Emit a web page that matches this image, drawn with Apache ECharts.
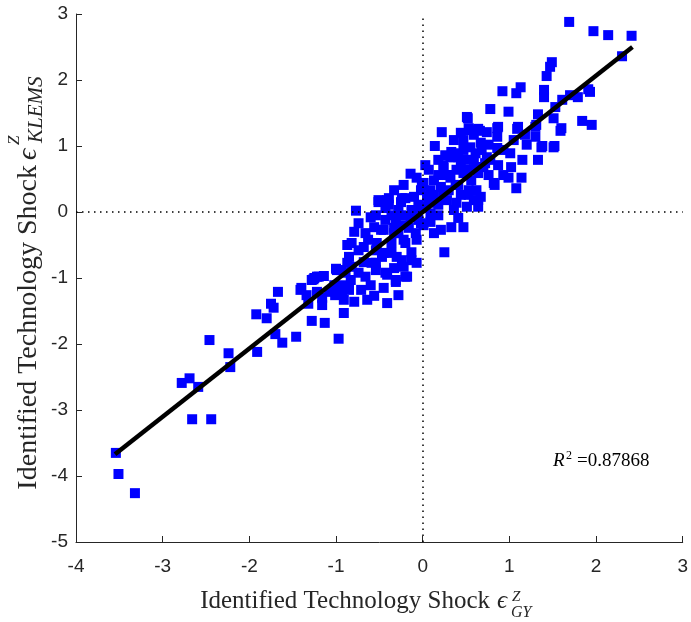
<!DOCTYPE html>
<html>
<head>
<meta charset="utf-8">
<script src="https://cdn.jsdelivr.net/npm/echarts@6/dist/echarts.min.js"></script>
<style>
    html, body { margin: 0; padding: 0; background: #fff; }
    #chart { width: 691px; height: 622px; }
</style>
</head>
<body>
<div id="chart"></div>
<script>
    // identified shocks (x: GY, y: KLEMS)
    const shockGY = [
        -3.54, -3.51, -3.32, -2.66, -2.44, -2.78, -2.69, -2.59, -2.46, -2.24,
        -2.22, -1.91, -1.92, -1.80, -1.75, -1.72, -1.67, -1.70, -1.62, -1.46,
        -1.28, -1.13, -0.97, -1.41, -1.34, -1.32, -1.26, -1.22, -1.14, -1.22,
        -1.16, -1.16, -1.00, -0.91, -1.01, -0.93, -0.91, -0.89, -0.87, -0.87,
        -0.77, -0.74, -0.82, -0.85, -0.66, -0.54, -0.51, -0.39, -0.20, -0.10,
        -0.48, -0.43, -0.31, -0.28, -0.20, -0.36, -0.47, -0.54, -0.66, -0.82,
        -0.94, -1.20, -1.28, -0.43, -0.31, -0.13, -0.07, -0.08, -0.02, -0.13,
        -0.28, -0.43, 0.03, 0.09, -0.24, -0.54, 0.25, -0.14, 0.03, 0.14,
        0.22, 0.44, 0.52, 0.54, 0.66, 0.78, 0.74, 0.86, 0.86, 0.92,
        0.99, 1.08, 1.13, 1.09, 1.18, 1.33, 1.30, 1.38, 1.52, 1.33,
        1.15, 0.99, 1.14, 1.08, 0.83, 1.40, 1.40, 1.43, 1.47, 1.49,
        1.53, 1.51, 1.59, 1.61, 1.70, 1.79, 1.91, 1.93, 1.84, 1.95,
        1.69, 1.97, 2.14, 2.41, 2.30, 1.30, 0.86, 1.01, -0.51, -0.25,
        0.33, 0.47, 0.41, 0.64, 0.67, 0.62, 0.82, 0.56, 0.47, 0.24,
        0.32, 0.39, 0.55, 0.67, 0.74, 0.62, 0.13, 0.09, 0.01, 0.21,
        0.28, 0.16, 0.09, 0.21, 0.13, -0.07, -0.18, -0.28, -0.41, -0.56,
        -0.79, -0.31, -0.41, -0.83, -0.68, -0.45, -0.30, -0.22, -0.33, -0.45,
        -0.56, -0.60, -0.14, -0.02, 0.05, 0.36, 0.51, 0.59, 0.64, 0.70,
        0.32, 0.39, 0.51, 0.61, 0.68, 0.47, 0.36, 1.60, 0.87, 1.10,
        1.31, 0.64, 0.53, 0.51, 1.37, 1.51, 1.02, 0.72, 0.64, 0.41,
        0.33, 0.26, 0.28, -0.01, 0.24, -0.41, -0.24, -0.99, -1.25, -1.40,
        -0.22, -0.13, -0.59, -0.54, -0.74, -0.97, -0.85, -0.20, -0.33, -0.22,
        -0.07, 0.07, 0.18, -0.05, -0.36, -0.22, 0.01, 0.18, 0.30, 0.41,
        0.44, 0.53, -0.39, -0.33, -0.16, -0.63, -0.74, -0.36, -0.53, -0.10,
        -0.25, -0.68, -0.60, -0.45, -0.33, -0.79, 0.13, 0.18, 0.30, 0.38,
        0.44, 0.53, 0.59, 0.18, 0.07, 0.24, 0.36, 0.47, 0.59, 0.76,
        0.78, 0.87, 0.93, 1.05, 1.20, 0.93, 0.76, 0.53, 0.39, 0.01,
        -0.05, 0.09, -1.02, -1.08, -0.91, -0.71, -0.64
    ];
    const shockKLEMS = [
        -3.65, -3.97, -4.26, -3.14, -3.14, -2.59, -2.52, -2.65, -1.94, -2.14,
        -2.35, -2.12, -1.55, -1.61, -1.39, -1.45, -1.21, -1.85, -1.98, -1.89,
        -1.65, -1.68, -1.92, -1.18, -1.26, -1.39, -1.02, -0.98, -0.97, -1.21,
        -1.30, -1.41, -0.86, -1.53, -1.26, -1.23, -1.11, -0.92, -0.50, -0.77,
        0.02, -0.17, -0.47, -0.68, -0.32, -0.05, 0.18, 0.21, 0.21, 0.23,
        -0.27, -0.12, -0.12, -0.32, -0.47, -0.62, -0.68, -0.77, -0.98, -0.83,
        -0.88, -0.98, -1.03, -0.92, -1.03, -0.61, -0.77, -0.32, -0.17, 0.03,
        0.03, 0.06, 0.08, 0.18, -0.73, -0.88, -0.61, 0.58, 0.71, 1.00,
        1.21, 1.20, 1.42, 1.24, 1.23, 1.56, 1.21, 1.27, 1.14, 1.83,
        1.52, 1.80, 1.89, 1.26, 1.17, 1.48, 1.14, 1.00, 1.00, 0.79,
        0.79, 0.52, 0.52, 0.36, 0.41, 1.85, 1.74, 2.06, 2.20, 2.27,
        1.59, 1.42, 1.23, 1.70, 1.77, 1.74, 1.86, 1.82, 1.38, 1.32,
        2.88, 2.74, 2.68, 2.67, 2.36, 1.29, 0.97, 0.89, 0.15, 0.15,
        -0.23, -0.23, -0.09, 0.08, 0.23, 0.33, 0.44, 0.48, 0.59, 0.71,
        0.83, 0.89, 0.98, 1.05, 0.83, 0.68, 0.48, 0.33, 0.44, 0.38,
        0.18, 0.14, -0.02, -0.27, -0.32, -0.42, -0.98, -1.26, -1.38, -1.27,
        -1.36, -1.06, -0.95, -1.03, -0.53, -0.62, -0.68, -0.42, -0.32, -0.27,
        -0.23, -0.08, -0.08, 0.33, 0.23, 0.03, 0.08, 0.18, 0.59, 0.68,
        0.52, 0.64, 0.79, 0.89, 0.94, 0.94, 0.83, 1.27, 1.29, 1.29,
        1.32, 1.26, 1.27, 1.44, 0.98, 0.98, 0.68, 0.74, 0.18, 0.83,
        0.91, 0.86, 0.56, 0.41, 0.67, 0.18, 0.21, -0.88, -1.00, -1.15,
        -0.83, -0.73, -0.77, -0.58, -0.92, -1.14, -1.18, -0.98, 0.33, 0.41,
        0.52, 0.64, 0.79, 0.11, -0.05, -0.20, -0.20, -0.05, 0.33, 0.41,
        0.26, 0.33, 0.11, -0.24, -0.24, -0.42, -0.58, -0.47, -0.47, -0.02,
        -0.05, -0.76, -1.11, -1.15, -0.85, -0.30, 0.26, 0.11, 0.56, 0.41,
        0.71, 0.64, 0.79, 0.56, 0.18, 0.26, 1.09, 1.09, 1.17, 1.02,
        0.79, 0.71, 0.94, 1.09, 1.02, 0.56, 0.56, 0.26, 0.14, 0.06,
        -0.12, -0.15, -1.11, -1.21, -1.33, -1.18, -1.33
    ];
    // least squares line, end points as drawn
    const fitX = [-3.55, 2.42];
    const fitY = [-3.67, 2.50];
    const r2Text = '=0.87868';

    const xTicks = { min: -4, max: 3, interval: 1 };
    const yTicks = { min: -5, max: 3, interval: 1 };

    const axisColor = '#262626';
    const serif = '"Liberation Serif", "DejaVu Serif", serif';

    const myChart = echarts.init(document.getElementById('chart'));

    const option = {
        animation: false,
        grid: {
            left: 76,
            top: 14,
            width: 609,
            height: 528
        },
        xAxis: {
            type: 'value',
            min: xTicks.min,
            max: xTicks.max,
            interval: xTicks.interval,
            splitLine: { show: false },
            axisLine: { onZero: false, lineStyle: { color: axisColor, width: 1 } },
            axisTick: { inside: true, length: 6, lineStyle: { color: axisColor } },
            axisLabel: {
                color: axisColor,
                fontSize: 19,
                fontFamily: '"Liberation Sans", Arial, sans-serif',
                margin: 15
            }
        },
        yAxis: {
            type: 'value',
            min: yTicks.min,
            max: yTicks.max,
            interval: yTicks.interval,
            splitLine: { show: false },
            axisLine: { onZero: false, lineStyle: { color: axisColor, width: 1 } },
            axisTick: { inside: true, length: 6, lineStyle: { color: axisColor } },
            axisLabel: {
                color: axisColor,
                fontSize: 19,
                fontFamily: '"Liberation Sans", Arial, sans-serif',
                margin: 8
            }
        },
        series: [
            {
                type: 'scatter',
                symbol: 'rect',
                symbolSize: 10,
                itemStyle: { color: '#0000ff', opacity: 1 },
                data: shockGY.map((x, i) => [x, shockKLEMS[i]]),
                markLine: {
                    silent: true,
                    symbol: 'none',
                    label: { show: false },
                    lineStyle: { color: '#000', width: 1.5, type: [1.5, 4.5] },
                    data: [{ xAxis: 0 }, { yAxis: 0 }]
                },
                z: 2
            },
            {
                type: 'line',
                symbol: 'none',
                lineStyle: { color: '#000', width: 4.5 },
                data: fitX.map((x, i) => [x, fitY[i]]),
                z: 3
            }
        ],
        graphic: [
            // x axis title
            { type: 'text', x: 490, y: 601, style: { text: 'Identified Technology Shock', font: '25px ' + serif, fill: axisColor, align: 'right', verticalAlign: 'middle' } },
            { type: 'text', x: 497, y: 601, style: { text: 'ϵ', font: 'italic 25px ' + serif, fill: axisColor, align: 'left', verticalAlign: 'middle' } },
            { type: 'text', x: 512, y: 597, style: { text: 'Z', font: 'italic 15px ' + serif, fill: axisColor, align: 'left', verticalAlign: 'middle' } },
            { type: 'text', x: 511, y: 613, style: { text: 'GY', font: 'italic 16px ' + serif, fill: axisColor, align: 'left', verticalAlign: 'middle' } },
            // y axis title (rotated)
            { type: 'text', x: 29, y: 165, rotation: Math.PI / 2, style: { text: 'Identified Technology Shock', font: '28px ' + serif, fill: axisColor, align: 'right', verticalAlign: 'middle' } },
            { type: 'text', x: 29, y: 160, rotation: Math.PI / 2, style: { text: 'ϵ', font: 'italic 28px ' + serif, fill: axisColor, align: 'left', verticalAlign: 'middle' } },
            { type: 'text', x: 15, y: 145, rotation: Math.PI / 2, style: { text: 'Z', font: 'italic 17px ' + serif, fill: axisColor, align: 'left', verticalAlign: 'middle' } },
            { type: 'text', x: 36, y: 143, rotation: Math.PI / 2, style: { text: 'KLEMS', font: 'italic 21px ' + serif, fill: axisColor, align: 'left', verticalAlign: 'middle' } },
            // R squared note
            { type: 'text', x: 553, y: 461, style: { text: 'R', font: 'italic 19px ' + serif, fill: '#000', align: 'left', verticalAlign: 'middle' } },
            { type: 'text', x: 566, y: 456, style: { text: '2', font: '12px ' + serif, fill: '#000', align: 'left', verticalAlign: 'middle' } },
            { type: 'text', x: 577, y: 461, style: { text: r2Text, font: '19px ' + serif, fill: '#000', align: 'left', verticalAlign: 'middle' } }
        ]
    };

    myChart.setOption(option);
</script>
</body>
</html>
